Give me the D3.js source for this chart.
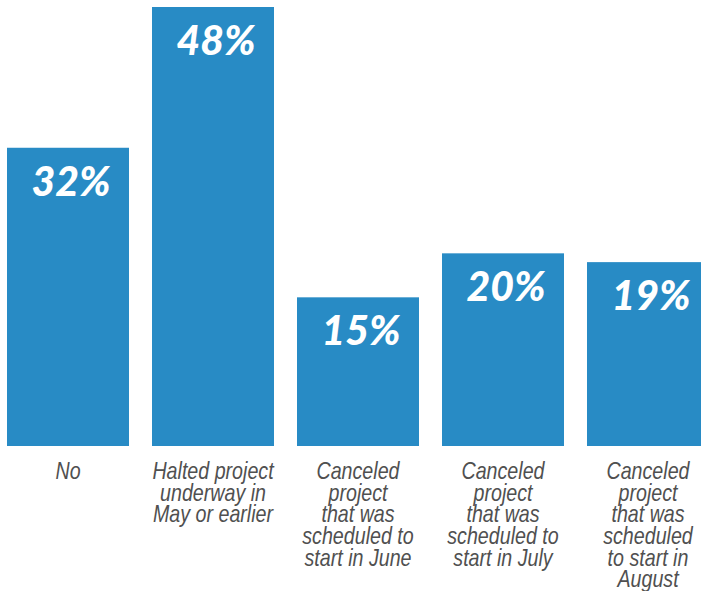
<!DOCTYPE html>
<html>
<head>
<meta charset="utf-8">
<script src="https://cdn.jsdelivr.net/npm/d3@7"></script>
<style>
  html, body { margin: 0; padding: 0; background: #fff; }
  svg { display: block; }
</style>
</head>
<body>
<svg id="chart" width="701" height="591"></svg>
<script>
// Survey answers and their shares (percent)
const categories = ["no", "halted", "june", "july", "august"];
const values = [32, 48, 15, 20, 19];
const categoryLines = [
  ["No"],
  ["Halted project", "underway in", "May or earlier"],
  ["Canceled", "project", "that was", "scheduled to", "start in June"],
  ["Canceled", "project", "that was", "scheduled to", "start in July"],
  ["Canceled", "project", "that was", "scheduled", "to start in", "August"]
];

const svg = d3.select("#chart");

// Last bar runs past the right edge of the view
const x = d3.scaleBand()
  .domain(categories)
  .range([7, 709])
  .paddingInner(0.1586)
  .paddingOuter(0);

const y = d3.scaleLinear()
  .domain([-1.9, 48])
  .range([446, 7]);

const baseY = y(y.domain()[0]);

// Bars
svg.append("g")
  .selectAll("rect")
  .data(values)
  .join("rect")
  .attr("x", (d, i) => x(categories[i]))
  .attr("y", d => y(d))
  .attr("width", x.bandwidth())
  .attr("height", d => baseY - y(d))
  .attr("fill", "#288bc5");

// Value labels inside the top of each bar
svg.append("g")
  .selectAll("text")
  .data(values)
  .join("text")
  .attr("x", (d, i) => x(categories[i]) + x.bandwidth() / 2 + 3)
  .attr("y", d => y(d) + 48)
  .attr("text-anchor", "middle")
  .attr("fill", "#ffffff")
  .style("font-family", "Lato, 'Open Sans', sans-serif")
  .style("font-weight", "900")
  .style("font-style", "italic")
  .style("font-size", "41px")
  .text(d => d + "%");

// Category labels below the bars, horizontally condensed
const labels = svg.append("g")
  .selectAll("text")
  .data(categoryLines)
  .join("text")
  .attr("transform", (d, i) =>
    `translate(${x(categories[i]) + x.bandwidth() / 2},479) scale(0.855,1)`)
  .attr("text-anchor", "middle")
  .attr("fill", "#505050")
  .style("font-family", "'Liberation Sans', Arial, sans-serif")
  .style("font-style", "italic")
  .style("font-size", "23px");

labels.each(function(lines) {
  const t = d3.select(this);
  lines.forEach((line, j) => {
    t.append("tspan")
      .attr("x", 0)
      .attr("y", j * 21.7)
      .text(line);
  });
});
</script>
</body>
</html>
